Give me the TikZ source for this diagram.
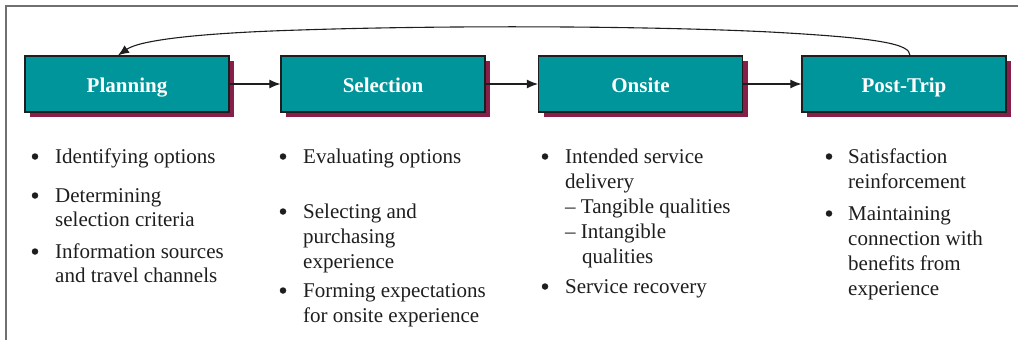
\documentclass[tikz,border=0pt]{standalone}
\usepackage{fontspec}
\setmainfont{Liberation Serif}
\usetikzlibrary{arrows.meta,shadows}
\definecolor{tealc}{HTML}{00959A}
\definecolor{shadowc}{HTML}{86204A}
\definecolor{framec}{HTML}{707070}
\definecolor{inkc}{HTML}{1E1E1E}
\begin{document}
\begin{tikzpicture}[x=1pt,y=-1pt,
  stage/.style={draw=inkc,line width=1.2pt,fill=tealc,minimum width=204pt,minimum height=56pt,inner sep=0pt,
    text height=18pt,text depth=0.6pt,
    text=white,font=\fontsize{21}{24}\selectfont\bfseries,
    drop shadow={shadow xshift=5pt,shadow yshift=-5pt,fill=shadowc,opacity=1}},
  item/.style={anchor=base west,inner sep=0pt,text=inkc,font=\fontsize{21}{24}\selectfont},
  dot/.style={circle,fill=inkc,inner sep=0pt,minimum size=6.5pt,yshift=6.5pt},
  link/.style={line width=1.1pt,draw=inkc,-{Latex[length=11pt,width=9pt]}}]
\useasboundingbox (0,0) rectangle (1018,340);
\draw[framec,line width=2pt] (6,340) -- (6,6) -- (1018,6);
% stages
\node[stage] (plan) at (127,84) {Planning};
\node[stage] (sel)  at (383,84) {Selection};
\node[stage] (ons)  at (640.5,84) {Onsite};
\node[stage] (post) at (904,84) {Post-Trip};
\draw[link] (plan) -- (sel);
\draw[link] (sel) -- (ons);
\draw[link] (ons) -- (post);
\coordinate (fbs) at ([xshift=6pt]post.north);
\coordinate (fbe) at ([xshift=-9pt]plan.north);
\draw[link] (fbs) .. controls (910,44) and (880,38) .. (770,32)
  .. controls (650,26) and (450,25) .. (300,30)
  .. controls (200,33) and (140,40) .. (fbe);
% Planning column
\node[dot] (pb1) at (35,163) {};
\node[item] (p1) at (55,163) {Identifying options};
\node[dot] (pb2) at (35,202) {};
\node[item] (p2a) at (55,202) {Determining};
\node[item] (p2b) at (55,226) {selection criteria};
\node[dot] (pb3) at (35,258) {};
\node[item] (p3a) at (55,258) {Information sources};
\node[item] (p3b) at (55,282) {and travel channels};
% Selection column
\node[dot] (sb1) at (283,163) {};
\node[item] (s1) at (303,163) {Evaluating options};
\node[dot] (sb2) at (283,218) {};
\node[item] (s2a) at (303,218) {Selecting and};
\node[item] (s2b) at (303,243) {purchasing};
\node[item] (s2c) at (303,268) {experience};
\node[dot] (sb3) at (283,297) {};
\node[item] (s3a) at (303,297) {Forming expectations};
\node[item] (s3b) at (303,322) {for onsite experience};
% Onsite column
\node[dot] (ob1) at (545,163) {};
\node[item] (o1a) at (565,163) {Intended service};
\node[item] (o1b) at (565,188) {delivery};
\node[item] (o1c) at (565,213) {– Tangible qualities};
\node[item] (o1d) at (565,238) {– Intangible};
\node[item] (o1e) at (582,263) {qualities};
\node[dot] (ob2) at (545,293) {};
\node[item] (o2) at (565,293) {Service recovery};
% Post-Trip column
\node[dot] (tb1) at (829,163) {};
\node[item] (t1a) at (848,163) {Satisfaction};
\node[item] (t1b) at (848,188) {reinforcement};
\node[dot] (tb2) at (829,220) {};
\node[item] (t2a) at (848,220) {Maintaining};
\node[item] (t2b) at (848,245) {connection with};
\node[item] (t2c) at (848,270) {benefits from};
\node[item] (t2d) at (848,295) {experience};
\end{tikzpicture}
\end{document}
